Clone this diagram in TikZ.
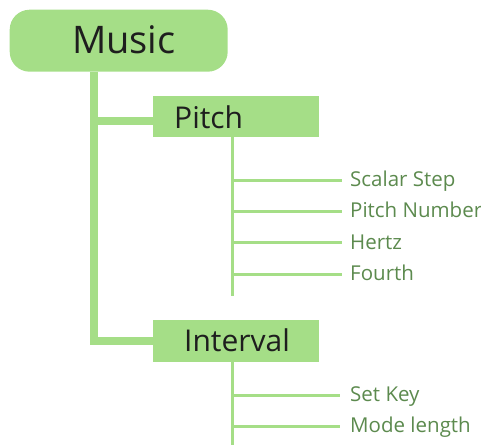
\documentclass[tikz,border=0pt]{standalone}
\usepackage{fontspec}
\setmainfont{Open Sans}
\definecolor{leaf}{HTML}{A5DE87}
\definecolor{labgreen}{HTML}{5C8A4E}
\definecolor{ink}{HTML}{1E1E1E}
\begin{document}
\begin{tikzpicture}[x=1pt,y=-1pt,
  box/.style={fill=leaf,draw=none,inner sep=0pt,anchor=north west},
  bigtxt/.style={text=ink,font=\fontsize{38}{38}\selectfont,inner sep=0pt,anchor=base west},
  midtxt/.style={text=ink,font=\fontsize{30}{30}\selectfont,inner sep=0pt,anchor=base west},
  leaftxt/.style={text=labgreen,font=\fontsize{20.5}{20.5}\selectfont,inner sep=0pt,anchor=base west},
  trunk/.style={draw=leaf,line width=8pt},
  twig/.style={draw=leaf,line width=3.5pt},
  branch/.style={draw=leaf,line width=3pt}]
\useasboundingbox (0,0) rectangle (481,445);
% boxes
\node[box,rounded corners=20pt,minimum width=218pt,minimum height=62pt] (music) at (9.5,9.5) {};
\node[box,minimum width=166pt,minimum height=41pt] (pitch) at (152.5,95.5) {};
\node[box,minimum width=166pt,minimum height=42pt] (interval) at (152.5,320) {};
% titles
\node[bigtxt] (musict) at (72,53.5) {Music};
\node[midtxt] (pitcht) at (174,128) {Pitch};
\node[midtxt] (intervalt) at (184,351.5) {Interval};
% trunk coordinates
\coordinate (t0) at (94,71.5);
\coordinate (t1) at (94,120.5);
\coordinate (t2) at (94,340.5);
\draw[trunk] (t0) -- (t1) -- (pitch.west |- t1);
\draw[trunk,line join=miter] (t1) -- (t2) -- (interval.west |- t2);
% pitch children
\coordinate (pv0) at (232.5,136.5);
\coordinate (pv1) at (232.5,296);
\draw[twig] (pv0) -- (pv1);
\node[leaftxt] (l1) at (350,186.7) {Scalar Step};
\node[leaftxt] (l2) at (350,217.7) {Pitch Number};
\node[leaftxt] (l3) at (350,249) {Hertz};
\node[leaftxt] (l4) at (350,280.7) {Fourth};
\coordinate (b1) at (232.5,180);
\coordinate (b2) at (232.5,211);
\coordinate (b3) at (232.5,242.3);
\coordinate (b4) at (232.5,274);
\foreach \b in {b1,b2,b3,b4}{\draw[branch] (\b) -- ++(109,0);}
% interval children
\coordinate (iv0) at (232.5,362);
\coordinate (iv1) at (232.5,445);
\draw[twig] (iv0) -- (iv1);
\node[leaftxt] (l5) at (350,401.7) {Set Key};
\node[leaftxt] (l6) at (350,432.7) {Mode length};
\coordinate (c1) at (232.5,395);
\coordinate (c2) at (232.5,426);
\foreach \b in {c1,c2}{\draw[branch] (\b) -- ++(107,0);}
\end{tikzpicture}
\end{document}
